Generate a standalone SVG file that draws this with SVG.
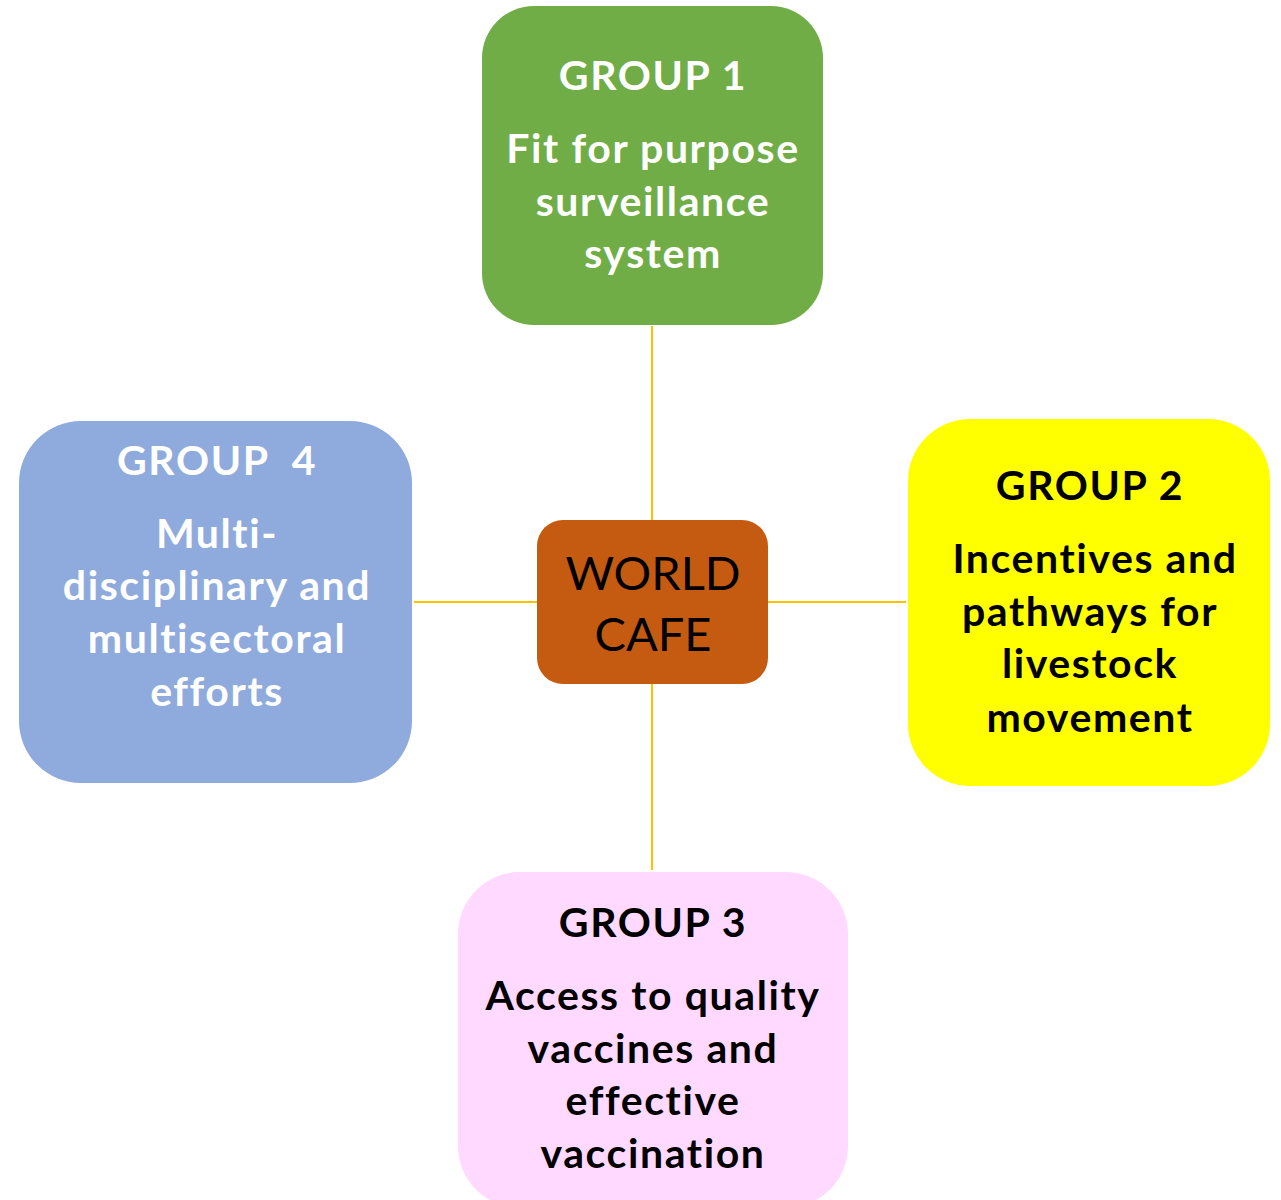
<svg xmlns="http://www.w3.org/2000/svg" width="1281" height="1200" viewBox="0 0 1281 1200">
<style>
.t{font-family:Lato,"Open Sans","Liberation Sans",sans-serif;font-weight:bold;font-size:41px;letter-spacing:1.6px;text-anchor:middle;font-variant-ligatures:none}
.w{fill:#ffffff}.k{fill:#000000}
.c{font-family:Lato,"Open Sans","Liberation Sans",sans-serif;font-size:47px;text-anchor:middle;fill:#000;font-variant-ligatures:none}
.ln{stroke:#FFC000;stroke-width:2;fill:none}
</style>
<rect width="1281" height="1200" fill="#ffffff"/>
<g id="connectors">
<line class="ln" x1="652" y1="326" x2="652" y2="520"/>
<line class="ln" x1="652" y1="684" x2="652" y2="870"/>
<line class="ln" x1="414" y1="602" x2="537" y2="602"/>
<line class="ln" x1="768" y1="602" x2="906" y2="602"/>
</g>
<g id="group1">
<rect x="482" y="6" width="341" height="319" rx="52" fill="#70AD47"/>
<text class="t w" x="653" y="90">GROUP 1</text>
<text class="t w" x="653" y="163">Fit for purpose</text>
<text class="t w" x="653" y="216">surveillance</text>
<text class="t w" x="653" y="268">system</text>
</g>
<g id="worldcafe">
<rect x="537" y="520" width="231" height="164" rx="26" fill="#C55A11"/>
<text class="c" x="653" y="590">WORLD</text>
<text class="c" x="653" y="651">CAFE</text>
</g>
<g id="group2">
<rect x="908" y="419" width="362" height="367" rx="62" fill="#FFFF00"/>
<text class="t k" x="1090" y="500">GROUP 2</text>
<text class="t k" x="1095" y="573">Incentives and</text>
<text class="t k" x="1090" y="626">pathways for</text>
<text class="t k" x="1090" y="678">livestock</text>
<text class="t k" x="1090" y="732">movement</text>
</g>
<g id="group3">
<rect x="458" y="872" width="390" height="336" rx="62" fill="#FFD9FF"/>
<text class="t k" x="653" y="937">GROUP 3</text>
<text class="t k" x="653" y="1010">Access to quality</text>
<text class="t k" x="653" y="1063">vaccines and</text>
<text class="t k" x="653" y="1115">effective</text>
<text class="t k" x="653" y="1168">vaccination</text>
</g>
<g id="group4">
<rect x="19" y="421" width="393" height="362" rx="62" fill="#8FAADC"/>
<text class="t w" x="217" y="475" xml:space="preserve">GROUP  4</text>
<text class="t w" x="217" y="548">Multi-</text>
<text class="t w" x="217" y="600">disciplinary and</text>
<text class="t w" x="217" y="653">multisectoral</text>
<text class="t w" x="217" y="706">efforts</text>
</g>
</svg>
